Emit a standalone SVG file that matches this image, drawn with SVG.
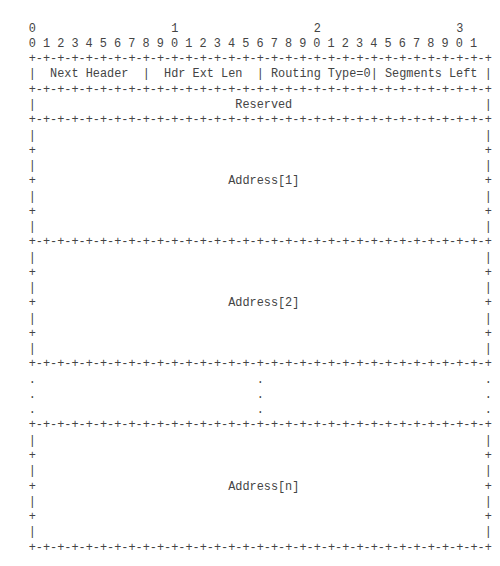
<svg xmlns="http://www.w3.org/2000/svg" width="500" height="566" viewBox="0 0 500 566">
<style>
text{font-family:"Liberation Mono","Courier New",monospace;font-size:11.875px;fill:#444;white-space:pre}
</style>
<rect width="500" height="566" fill="#fff"/>
<defs>
<text id="sepline" textLength="463.1" lengthAdjust="spacing">+-+-+-+-+-+-+-+-+-+-+-+-+-+-+-+-+-+-+-+-+-+-+-+-+-+-+-+-+-+-+-+-+</text>
</defs>
<g id="ruler">
<text x="28.7" y="31.7">0</text>
<text x="171.2" y="31.7">1</text>
<text x="313.7" y="31.7">2</text>
<text x="456.2" y="31.7">3</text>
<text x="28.7" y="46.96">0 1 2 3 4 5 6 7 8 9 0 1 2 3 4 5 6 7 8 9 0 1 2 3 4 5 6 7 8 9 0 1</text>
</g>
<g id="separators">
<use href="#sepline" x="28.7" y="62.22"/>
<use href="#sepline" x="28.7" y="92.74"/>
<use href="#sepline" x="28.7" y="123.26"/>
<use href="#sepline" x="28.7" y="245.34"/>
<use href="#sepline" x="28.7" y="367.42"/>
<use href="#sepline" x="28.7" y="428.46"/>
<use href="#sepline" x="28.7" y="550.54"/>
</g>
<g id="row-header-fields">
<text x="28.7" y="77.48">|</text>
<text x="50.1" y="77.48">Next Header</text>
<text x="142.7" y="77.48">|</text>
<text x="164.1" y="77.48">Hdr Ext Len</text>
<text x="256.7" y="77.48">|</text>
<text x="270.95" y="77.48">Routing Type=0</text>
<text x="370.7" y="77.48">|</text>
<text x="384.95" y="77.48">Segments Left</text>
<text x="484.7" y="77.48">|</text>
</g>
<g id="row-reserved">
<text x="28.7" y="108">|</text>
<text x="235.3" y="108">Reserved</text>
<text x="484.7" y="108">|</text>
</g>
<g id="address-1">
<text x="28.7" y="138.52">|</text><text x="484.7" y="138.52">|</text>
<text x="28.7" y="153.78">+</text><text x="484.7" y="153.78">+</text>
<text x="28.7" y="169.04">|</text><text x="484.7" y="169.04">|</text>
<text x="28.7" y="184.3">+</text><text x="228.2" y="184.3">Address[1]</text><text x="484.7" y="184.3">+</text>
<text x="28.7" y="199.56">|</text><text x="484.7" y="199.56">|</text>
<text x="28.7" y="214.82">+</text><text x="484.7" y="214.82">+</text>
<text x="28.7" y="230.08">|</text><text x="484.7" y="230.08">|</text>
</g>
<g id="address-2">
<text x="28.7" y="260.6">|</text><text x="484.7" y="260.6">|</text>
<text x="28.7" y="275.86">+</text><text x="484.7" y="275.86">+</text>
<text x="28.7" y="291.12">|</text><text x="484.7" y="291.12">|</text>
<text x="28.7" y="306.38">+</text><text x="228.2" y="306.38">Address[2]</text><text x="484.7" y="306.38">+</text>
<text x="28.7" y="321.64">|</text><text x="484.7" y="321.64">|</text>
<text x="28.7" y="336.9">+</text><text x="484.7" y="336.9">+</text>
<text x="28.7" y="352.16">|</text><text x="484.7" y="352.16">|</text>
</g>
<g id="ellipsis">
<text x="28.7" y="382.68">.</text><text x="256.7" y="382.68">.</text><text x="484.7" y="382.68">.</text>
<text x="28.7" y="397.94">.</text><text x="256.7" y="397.94">.</text><text x="484.7" y="397.94">.</text>
<text x="28.7" y="413.2">.</text><text x="256.7" y="413.2">.</text><text x="484.7" y="413.2">.</text>
</g>
<g id="address-n">
<text x="28.7" y="443.72">|</text><text x="484.7" y="443.72">|</text>
<text x="28.7" y="458.98">+</text><text x="484.7" y="458.98">+</text>
<text x="28.7" y="474.24">|</text><text x="484.7" y="474.24">|</text>
<text x="28.7" y="489.5">+</text><text x="228.2" y="489.5">Address[n]</text><text x="484.7" y="489.5">+</text>
<text x="28.7" y="504.76">|</text><text x="484.7" y="504.76">|</text>
<text x="28.7" y="520.02">+</text><text x="484.7" y="520.02">+</text>
<text x="28.7" y="535.28">|</text><text x="484.7" y="535.28">|</text>
</g>
</svg>
